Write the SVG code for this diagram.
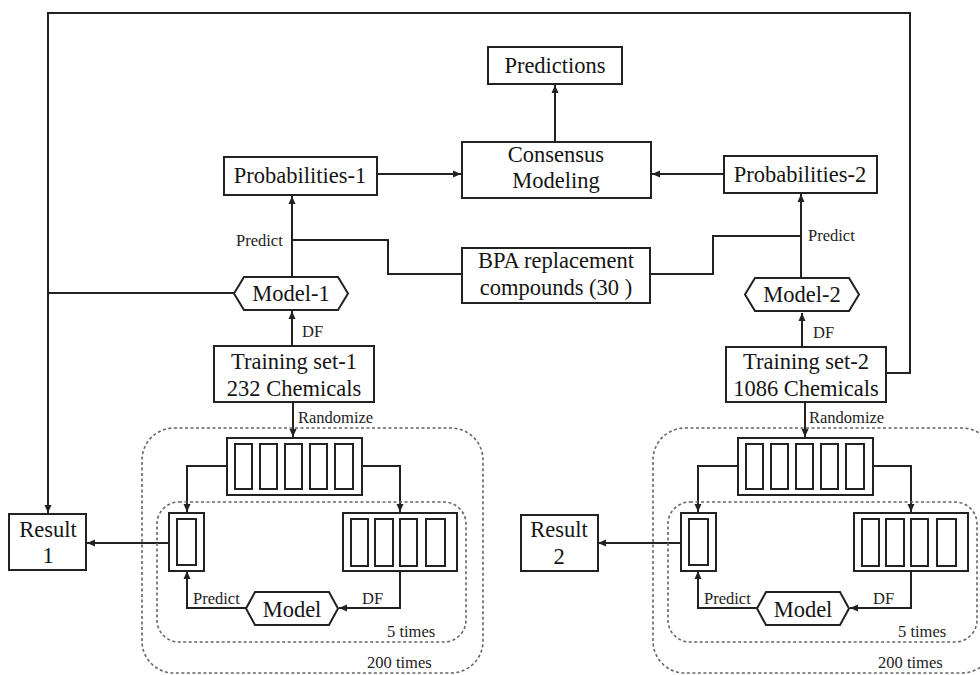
<svg xmlns="http://www.w3.org/2000/svg" width="980" height="675" viewBox="0 0 980 675">
<style>
.box{fill:#fff;stroke:#222;stroke-width:2}
.ln{fill:none;stroke:#222;stroke-width:2}
.dash{fill:none;stroke:#666;stroke-width:1.6;stroke-dasharray:3 2.5}
.big{font-size:22.5px;fill:#151515;text-anchor:middle}
.sm{font-size:16.5px;fill:#222}
text{font-family:'Liberation Serif','DejaVu Serif',serif}
</style>
<defs>
<marker id="ah" markerUnits="userSpaceOnUse" markerWidth="9" markerHeight="8" refX="8" refY="4" orient="auto">
<path d="M0,0.5 L8,4 L0,7.5 Z" fill="#222"/>
</marker>
</defs>
<rect width="980" height="675" fill="#fff"/>

<g id="connectors" font-family="Liberation Serif, DejaVu Serif, serif">
<path class="ln" d="M555 142 V85" marker-end="url(#ah)"/>
<path class="ln" d="M377 174 H461" marker-end="url(#ah)"/>
<path class="ln" d="M724 174 H652" marker-end="url(#ah)"/>
<path class="ln" d="M292 277 V196" marker-end="url(#ah)"/>
<path class="ln" d="M462 274 H388 V240 H292"/>
<path class="ln" d="M801 277 V194" marker-end="url(#ah)"/>
<path class="ln" d="M650 274 H713 V236 H801"/>
<path class="ln" d="M292 346 V311" marker-end="url(#ah)"/>
<path class="ln" d="M802 347 V313" marker-end="url(#ah)"/>
<path class="ln" d="M886 373 H910 V13 H48 V513" marker-end="url(#ah)"/>
<path class="ln" d="M234 293 H48"/>
<g id="loop1-connectors">
<path class="ln" d="M293 402 V437" marker-end="url(#ah)"/>
<path class="ln" d="M227 466 H187 V512" marker-end="url(#ah)"/>
<path class="ln" d="M362 466 H400 V512" marker-end="url(#ah)"/>
<path class="ln" d="M400 571 V608 H339" marker-end="url(#ah)"/>
<path class="ln" d="M246 608 H187 V571" marker-end="url(#ah)"/>
<path class="ln" d="M169 543 H87" marker-end="url(#ah)"/>
</g>
<g id="loop2-connectors" transform="translate(511,0)">
<path class="ln" d="M294 402 V437" marker-end="url(#ah)"/>
<path class="ln" d="M227 466 H187 V512" marker-end="url(#ah)"/>
<path class="ln" d="M362 466 H400 V512" marker-end="url(#ah)"/>
<path class="ln" d="M400 571 V608 H339" marker-end="url(#ah)"/>
<path class="ln" d="M246 608 H187 V571" marker-end="url(#ah)"/>
<path class="ln" d="M169 543 H87" marker-end="url(#ah)"/>
</g>
<text class="sm" x="236" y="246">Predict</text>
<text class="sm" x="808" y="241">Predict</text>
<text class="sm" x="302" y="337">DF</text>
<text class="sm" x="813" y="338">DF</text>
<text class="sm" x="298" y="423">Randomize</text>
<text class="sm" x="809" y="423">Randomize</text>
<text class="sm" x="193" y="604">Predict</text>
<text class="sm" x="362" y="604">DF</text>
<text class="sm" x="704" y="604">Predict</text>
<text class="sm" x="873" y="604">DF</text>
</g>

<g id="predictions"><rect class="box" x="488" y="47" width="134" height="37"/><text class="big" x="555" y="73">Predictions</text></g>
<g id="consensus"><rect class="box" x="462" y="142" width="189" height="56"/><text class="big" x="556" y="162">Consensus</text><text class="big" x="556" y="188">Modeling</text></g>
<g id="prob1"><rect class="box" x="224" y="157" width="153" height="38"/><text class="big" x="300" y="183">Probabilities-1</text></g>
<g id="prob2"><rect class="box" x="724" y="156" width="153" height="37"/><text class="big" x="800" y="182">Probabilities-2</text></g>
<g id="bpa"><rect class="box" x="462" y="248" width="188" height="55"/><text class="big" x="556" y="268">BPA replacement</text><text class="big" x="556" y="295">compounds (30 )</text></g>
<g id="model1"><polygon class="box" points="234,293.5 244,277 338,277 348,293.5 338,310 244,310"/><text class="big" x="291" y="301">Model-1</text></g>
<g id="model2"><polygon class="box" points="745,294.5 755,278 849,278 859,294.5 849,311 755,311"/><text class="big" x="802" y="302">Model-2</text></g>
<g id="train1"><rect class="box" x="214" y="346" width="160" height="56"/><text class="big" x="294" y="369">Training set-1</text><text class="big" x="294" y="396">232 Chemicals</text></g>
<g id="train2"><rect class="box" x="726" y="347" width="160" height="55"/><text class="big" x="806" y="369">Training set-2</text><text class="big" x="806" y="396">1086 Chemicals</text></g>

<g id="loop1">
<rect class="dash" x="142" y="428" width="341" height="245" rx="32"/>
<rect class="dash" x="157" y="502" width="309" height="140" rx="22"/>
<g id="folds5-1"><rect class="box" x="227" y="438" width="135" height="57"/>
<rect class="box" x="235" y="444" width="17" height="45"/><rect class="box" x="260" y="444" width="17" height="45"/><rect class="box" x="285" y="444" width="17" height="45"/><rect class="box" x="310" y="444" width="17" height="45"/><rect class="box" x="335" y="444" width="18" height="45"/></g>
<g id="test1"><rect class="box" x="169" y="513" width="35" height="58"/><rect class="box" x="177" y="519" width="19" height="46"/></g>
<g id="folds4-1"><rect class="box" x="343" y="513" width="114" height="58"/>
<rect class="box" x="351" y="519" width="17" height="47"/><rect class="box" x="375" y="519" width="18" height="47"/><rect class="box" x="400" y="519" width="17" height="47"/><rect class="box" x="426" y="519" width="19" height="47"/></g>
<g id="inner-model1"><polygon class="box" points="246,608.5 255,592 329,592 338,608.5 329,625 255,625"/><text class="big" x="292" y="617">Model</text></g>
<g id="result1"><rect class="box" x="9" y="514" width="77" height="56"/><text class="big" x="48" y="537">Result</text><text class="big" x="48" y="563">1</text></g>
<text class="sm" x="387" y="637">5 times</text>
<text class="sm" x="367" y="668">200 times</text>
</g>

<g id="loop2" transform="translate(511,0)">
<rect class="dash" x="142" y="428" width="341" height="245" rx="32"/>
<rect class="dash" x="157" y="502" width="309" height="140" rx="22"/>
<g id="folds5-2"><rect class="box" x="227" y="438" width="135" height="57"/>
<rect class="box" x="235" y="444" width="17" height="45"/><rect class="box" x="260" y="444" width="17" height="45"/><rect class="box" x="285" y="444" width="17" height="45"/><rect class="box" x="310" y="444" width="17" height="45"/><rect class="box" x="335" y="444" width="18" height="45"/></g>
<g id="test2"><rect class="box" x="170" y="513" width="35" height="58"/><rect class="box" x="178" y="519" width="19" height="46"/></g>
<g id="folds4-2"><rect class="box" x="343" y="513" width="114" height="58"/>
<rect class="box" x="351" y="519" width="17" height="47"/><rect class="box" x="375" y="519" width="18" height="47"/><rect class="box" x="400" y="519" width="17" height="47"/><rect class="box" x="426" y="519" width="19" height="47"/></g>
<g id="inner-model2"><polygon class="box" points="246,608.5 255,592 329,592 338,608.5 329,625 255,625"/><text class="big" x="292" y="617">Model</text></g>
<g id="result2"><rect class="box" x="10" y="515" width="77" height="56"/><text class="big" x="48" y="537">Result</text><text class="big" x="48" y="564">2</text></g>
<text class="sm" x="387" y="637">5 times</text>
<text class="sm" x="367" y="668">200 times</text>
</g>
</svg>
